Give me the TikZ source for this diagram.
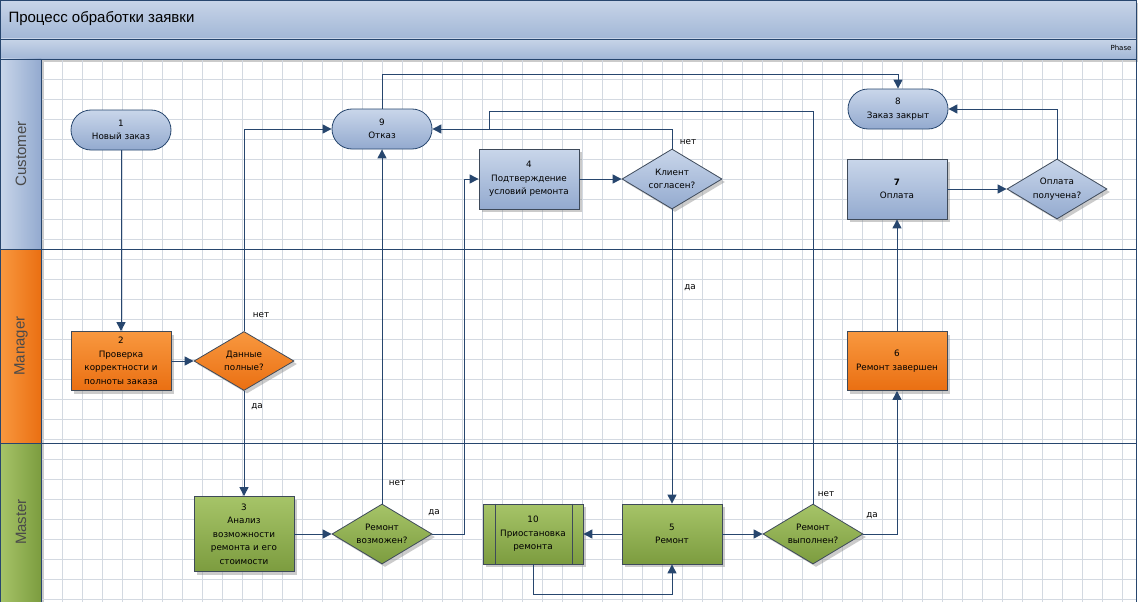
\documentclass[tikz,border=0pt]{standalone}
\usepackage{fontspec}
\setmainfont{DejaVu Sans}
\newfontfamily\titlefont{Liberation Sans}
\usetikzlibrary{calc,arrows.meta,positioning,shapes.geometric,shadows}
\definecolor{flowblue}{HTML}{27466E}
\definecolor{nodeline}{HTML}{3E4A5A}
\definecolor{gridcol}{HTML}{D3D9E1}
\definecolor{bluetop}{HTML}{C9D6EA}
\definecolor{bluebot}{HTML}{93AACF}
\definecolor{orangetop}{HTML}{F8983F}
\definecolor{orangebot}{HTML}{EA6F12}
\definecolor{greentop}{HTML}{A6C468}
\definecolor{greenbot}{HTML}{7C9C3F}
\definecolor{bartop}{HTML}{C7D4E8}
\definecolor{barbot}{HTML}{A2B7D6}
\definecolor{lanetext}{HTML}{4A4A4A}

\begin{document}
\begin{tikzpicture}[x=1pt,y=-1pt,
  shade/.style={drop shadow={shadow xshift=3pt,shadow yshift=-3pt,fill=black!45,opacity=0.45}},
  box/.style={draw=nodeline,line width=0.8pt,minimum width=100pt,minimum height=60pt,
    inner sep=1pt,align=center,font=\fontsize{8.8}{13.5}\selectfont},
  proc/.style={box,rectangle,shade},
  term/.style={box,rectangle,rounded corners=20pt,minimum height=40pt,draw=flowblue,top color=bluetop,bottom color=bluebot},
  test/.style={box,diamond,aspect=1.67,inner sep=0pt,shade},
  blue/.style={top color=bluetop,bottom color=bluebot},
  orange/.style={top color=orangetop,bottom color=orangebot},
  green/.style={top color=greentop,bottom color=greenbot},
  flow/.style={draw=flowblue,line width=1pt,-{Triangle[width=9pt,length=9pt]}},
  lbl/.style={font=\fontsize{8.8}{10}\selectfont},
  lane/.style={rotate=90,text=lanetext,font=\titlefont\fontsize{15}{18}\selectfont}]
\useasboundingbox (0,0) rectangle (1138,602);
\fill[white] (0,0) rectangle (1138,602);
\shade[top color=bartop,bottom color=barbot] (0,0) rectangle (1136,39);
\shade[top color=bartop,bottom color=barbot] (0,39) rectangle (1136,59);
\shade[left color=bluetop,right color=bluebot] (0,59) rectangle (41,249);
\shade[left color=orangetop,right color=orangebot] (0,249) rectangle (41,443);
\shade[left color=greentop,right color=greenbot] (0,443) rectangle (41,602);
\foreach \x in {62,82,...,1122} \draw[gridcol,line width=0.6pt] (\x,59) -- (\x,602);
\foreach \y in {79,99,...,599} \draw[gridcol,line width=0.6pt] (41,\y) -- (1136,\y);
\draw[flowblue,line width=0.8pt] (0.4,0.4) rectangle (1136,602);
\draw[flowblue,line width=0.8pt] (0,39) -- (1136,39);
\draw[flowblue,line width=0.8pt] (0,59) -- (1136,59);
\draw[flowblue,line width=0.8pt] (41,59) -- (41,602);
\draw[flowblue,line width=0.8pt] (0,249) -- (1136,249);
\draw[flowblue,line width=0.8pt] (0,443) -- (1136,443);
\node[anchor=west,font=\titlefont\fontsize{15}{18}\selectfont] (title) at (5,19) {Процесс обработки заявки};
\node[anchor=east,font=\fontsize{7}{9}\selectfont] (phase) at (1135,48) {Phase};
\node[lane] (customer) at (21,154) {Customer};
\node[lane] (manager) at (21,346) {Manager};
\node[lane] (master) at (21,522) {Master};

\node[term] (n1) at (121,130) {1\\Новый заказ};
\node[term] (n9) at (382,129) {9\\Отказ};
\node[term] (n8) at (898,109) {8\\Заказ закрыт};
\node[proc,blue] (n4) at (529,179) {4\\Подтверждение\\условий ремонта};
\node[test,blue] (q3) at (672,179) {Клиент\\согласен?};
\node[proc,blue] (n7) at (897,189) {\textbf{7}\\Оплата};
\node[test,blue] (q5) at (1057,189) {Оплата\\получена?};
\node[proc,orange,minimum height=59pt] (n2) at (121,361) {2\\Проверка\\корректности и\\полноты заказа};
\node[test,orange,minimum height=59pt] (q1) at (244,361) {Данные\\полные?};
\node[proc,orange,minimum height=59pt] (n6) at (897,361) {6\\Ремонт завершен};
\node[proc,green,minimum height=75pt] (n3) at (244,534) {3\\Анализ\\возможности\\ремонта и его\\стоимости};
\node[test,green] (q2) at (382,534) {Ремонт\\возможен?};
\node[proc,green] (n10) at (533,534) {10\\Приостановка\\ремонта};
\draw[nodeline,line width=0.8pt] ($(n10.north west)+(13,0)$) -- ($(n10.south west)+(13,0)$);
\draw[nodeline,line width=0.8pt] ($(n10.north east)+(-11,0)$) -- ($(n10.south east)+(-11,0)$);
\node[proc,green] (n5) at (672,534) {5\\Ремонт};
\node[test,green] (q4) at (813,534) {Ремонт\\выполнен?};
\coordinate (j1) at (489,129);

\draw[flow] (n1) -- (n2);
\draw[flow] (n2) -- (q1);
\draw[flow] (q1.north) |- (n9.west);
\draw[flow] (q1.south) -- (n3.north);
\draw[flow] (n3) -- (q2);
\draw[flow] (q2.north) -- (n9.south);
\draw[flow] (q2.east) -- ++(32,0) |- (n4.west);
\draw[flow] (n4) -- (q3);
\draw[flow] (q3.north) |- (n9.east);
\draw[draw=flowblue,line width=1pt] (q4.north) -- ++(0,-392) -| (j1);
\draw[flow] (n9.north) -- ++(0,-34) -| (n8.north);
\draw[flow] (q3.south) -- (n5.north);
\draw[flow] (n5) -- (n10);
\draw[flow] (n10.south) -- ++(0,30) -| (n5.south);
\draw[flow] (n5) -- (q4);
\draw[flow] (q4.east) -| (n6.south);
\draw[flow] (n6) -- (n7);
\draw[flow] (n7) -- (q5);
\draw[flow] (q5.north) |- (n8.east);

\node[lbl] (l1) at (261,315) {нет};
\node[lbl] (l2) at (257,407) {да};
\node[lbl] (l3) at (397,483) {нет};
\node[lbl] (l4) at (434,513) {да};
\node[lbl] (l5) at (688,142) {нет};
\node[lbl] (l6) at (690,288) {да};
\node[lbl] (l7) at (826,494) {нет};
\node[lbl] (l8) at (872,516) {да};
\end{tikzpicture}
\end{document}
